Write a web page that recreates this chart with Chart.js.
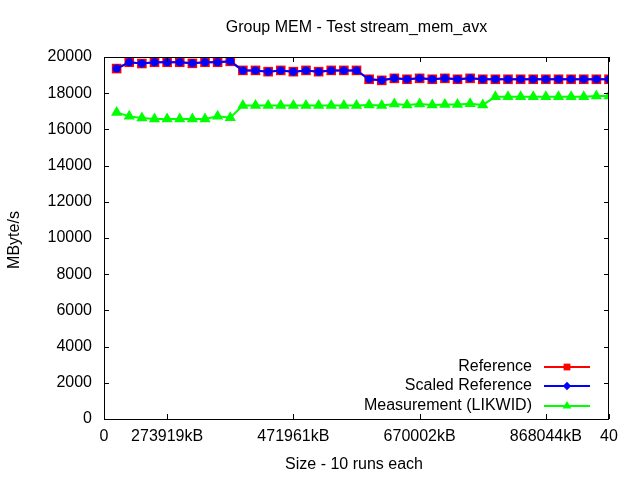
<!DOCTYPE html>
<html><head><meta charset="utf-8">
<script src="https://cdn.jsdelivr.net/npm/chart.js@4.4.0/dist/chart.umd.min.js"></script>
<style>html,body{margin:0;padding:0;background:#fff;overflow:hidden;}</style>
</head><body>
<canvas id="c" width="640" height="480"></canvas>
<script>
const titleText = 'Group MEM - Test stream_mem_avx';
const xAxisTitle = 'Size - 10 runs each';
const yAxisTitle = 'MByte/s';
const seriesNames = ['Reference', 'Scaled Reference', 'Measurement (LIKWID)'];
const xPositions = [1,2,3,4,5,6,7,8,9,10,11,12,13,14,15,16,17,18,19,20,21,22,23,24,25,26,27,28,29,30,31,32,33,34,35,36,37,38,39,40];
const reference = [19360,19710,19640,19710,19710,19710,19650,19710,19710,19760,
                   19260,19260,19190,19260,19190,19260,19190,19260,19260,19260,
                   18770,18710,18820,18770,18820,18770,18820,18770,18820,18770,
                   18770,18770,18770,18770,18770,18770,18770,18770,18770,18770];
const scaledReference = [19360,19710,19640,19710,19710,19710,19650,19710,19710,19760,
                   19260,19260,19190,19260,19190,19260,19190,19260,19260,19260,
                   18770,18710,18820,18770,18820,18770,18820,18770,18820,18770,
                   18770,18770,18770,18770,18770,18770,18770,18770,18770,18770];
const measurement = [16940,16720,16630,16580,16580,16580,16580,16580,16720,16650,
                   17320,17320,17320,17320,17320,17320,17320,17320,17320,17320,
                   17350,17320,17400,17350,17400,17350,17370,17370,17420,17350,
                   17800,17800,17800,17800,17800,17800,17800,17800,17850,17850];
const xTickValues = [0,5,15,25,35,40];
const xTickLabels = ['0','273919kB','471961kB','670002kB','868044kB','40'];
const yTickValues = [0,2000,4000,6000,8000,10000,12000,14000,16000,18000,20000];

const FONT = "'Liberation Sans', Arial, sans-serif";
const toPts = arr => arr.map((v,i)=>({x:xPositions[i], y:v}));

const legendStyles = [
  {style:'rect', r:4.8},
  {style:'rectRot', r:4.2},
  {style:'triangle', r:5}
];

const framePlugin = {
  id:'frame',
  afterDraw(chart){
    const ctx = chart.ctx, a = chart.chartArea;
    const xs = chart.scales.x, ys = chart.scales.y;
    ctx.save();
    ctx.strokeStyle = '#000'; ctx.lineWidth = 1;
    ctx.strokeRect(Math.round(a.left)+0.5, Math.round(a.top)+0.5, Math.round(a.right-a.left)-1, Math.round(a.bottom-a.top));
    ctx.beginPath();
    const tl = 5;
    yTickValues.forEach(v=>{
      const y = Math.round(ys.getPixelForValue(v))+0.5;
      ctx.moveTo(a.left, y); ctx.lineTo(a.left+tl, y);
      ctx.moveTo(a.right, y); ctx.lineTo(a.right-tl, y);
    });
    xTickValues.forEach(v=>{
      const x = Math.round(xs.getPixelForValue(v))+0.5;
      ctx.moveTo(x, a.bottom); ctx.lineTo(x, a.bottom-tl);
      ctx.moveTo(x, a.top); ctx.lineTo(x, a.top+tl);
    });
    ctx.stroke();
    // titles
    ctx.fillStyle = '#000';
    ctx.textAlign = 'center'; ctx.textBaseline = 'middle';
    ctx.font = '16px ' + FONT;
    ctx.fillText(titleText, (a.left+a.right)/2, 28);
    ctx.fillText(xAxisTitle, 354, 465);
    ctx.save();
    ctx.translate(15, 240);
    ctx.rotate(-Math.PI/2);
    ctx.fillText(yAxisTitle, 0, 0);
    ctx.restore();
    // legend
    const rows = [367, 386, 406];
    chart.data.datasets.forEach((ds, i)=>{
      const y = rows[i];
      ctx.font = '16px ' + FONT;
      ctx.textAlign = 'right';
      ctx.fillStyle = '#000';
      ctx.fillText(ds.label, 532, y);
      ctx.strokeStyle = ds.borderColor; ctx.lineWidth = 2;
      ctx.beginPath(); ctx.moveTo(544, y); ctx.lineTo(590, y); ctx.stroke();
      ctx.fillStyle = ds.pointBackgroundColor;
      ctx.strokeStyle = ds.pointBorderColor; ctx.lineWidth = 1;
      Chart.helpers.drawPoint(ctx, {pointStyle: legendStyles[i].style, radius: legendStyles[i].r, rotation: 0, borderWidth: 0}, 567, y);
    });
    ctx.restore();
  }
};

new Chart(document.getElementById('c'), {
  type:'line',
  data:{
    datasets:[
      {label:seriesNames[0], data:toPts(reference), borderColor:'#ff0000', backgroundColor:'#ff0000',
       pointBackgroundColor:'#ff0000', pointBorderColor:'#ff0000', pointBorderWidth:0,
       pointStyle:'rect', pointRadius:6.8, borderWidth:2, tension:0, order:2},
      {label:seriesNames[1], data:toPts(scaledReference), borderColor:'#0000ff', backgroundColor:'#0000ff',
       pointBackgroundColor:'#0000ff', pointBorderColor:'#0000ff', pointBorderWidth:0,
       pointStyle:'circle', pointRadius:4, borderWidth:2, tension:0, order:1},
      {label:seriesNames[2], data:toPts(measurement), borderColor:'#00ff00', backgroundColor:'#00ff00',
       pointBackgroundColor:'#00ff00', pointBorderColor:'#00ff00', pointBorderWidth:0,
       pointStyle:'triangle', pointRadius:6.5, borderWidth:2, tension:0, order:0}
    ]
  },
  options:{
    responsive:false, animation:false, devicePixelRatio:1,
    layout:{padding:{top:57, right:31, left:0, bottom:0}},
    plugins:{legend:{display:false}, title:{display:false}, tooltip:{enabled:false}},
    scales:{
      x:{type:'linear', min:0, max:40,
         afterBuildTicks:(s)=>{ s.ticks = xTickValues.map(v=>({value:v})); },
         afterFit:(s)=>{ s.height = 61; },
         grid:{display:false, drawTicks:false}, border:{display:false},
         ticks:{autoSkip:false, maxRotation:0, minRotation:0, padding:8, color:'#000',
                font:{family:FONT, size:16},
                callback:(v)=>{ const i = xTickValues.indexOf(v); return i>=0 ? xTickLabels[i] : ''; }}},
      y:{type:'linear', min:0, max:20000,
         afterBuildTicks:(s)=>{ s.ticks = yTickValues.map(v=>({value:v})); },
         afterFit:(s)=>{ s.width = 104; },
         grid:{display:false, drawTicks:false}, border:{display:false},
         ticks:{padding:12, color:'#000', font:{family:FONT, size:16},
                callback:(v)=>String(v)}}
    }
  },
  plugins:[framePlugin]
});
</script>
</body></html>
